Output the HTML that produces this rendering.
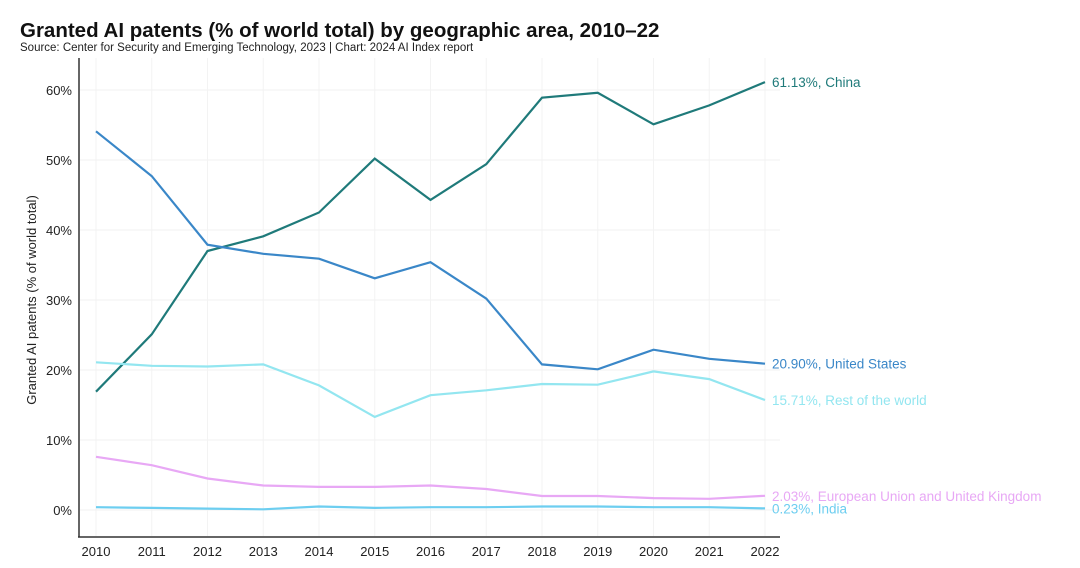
<!DOCTYPE html>
<html><head><meta charset="utf-8"><style>
body{margin:0;background:#fff;font-family:"Liberation Sans",sans-serif}
svg{display:block}
</style></head><body>
<svg id="c" width="1080" height="568">
<text x="20" y="37" font-size="20.5" font-weight="bold" fill="#111">Granted AI patents (% of world total) by geographic area, 2010–22</text>
<text x="20" y="51" font-size="11.5" fill="#222">Source: Center for Security and Emerging Technology, 2023 | Chart: 2024 AI Index report</text>
<text transform="translate(36,300) rotate(-90)" text-anchor="middle" font-size="13" fill="#222">Granted AI patents (% of world total)</text>
<g id="grid"></g><g id="series"></g>
<line x1="79" y1="58" x2="79" y2="537" stroke="#333" stroke-width="1.5"/>
<line x1="78" y1="537" x2="780" y2="537" stroke="#333" stroke-width="1.5"/>
</svg>
<script>
const years=[2010,2011,2012,2013,2014,2015,2016,2017,2018,2019,2020,2021,2022];
const yTicks=[0,10,20,30,40,50,60];
const china=[16.9,25.1,37.0,39.1,42.5,50.2,44.3,49.4,58.9,59.6,55.1,57.8,61.13];
const us=[54.1,47.7,37.9,36.6,35.9,33.1,35.4,30.2,20.8,20.1,22.9,21.6,20.90];
const row=[21.1,20.6,20.5,20.8,17.8,13.3,16.4,17.1,18.0,17.9,19.8,18.7,15.71];
const eu=[7.6,6.4,4.5,3.5,3.3,3.3,3.5,3.0,2.0,2.0,1.7,1.6,2.03];
const india=[0.4,0.3,0.2,0.1,0.5,0.3,0.4,0.4,0.5,0.5,0.4,0.4,0.23];
const seriesNames=["China","United States","Rest of the world","European Union and United Kingdom","India"];
const NS="http://www.w3.org/2000/svg";
const x=i=>96+i*(765-96)/(years.length-1);
const y=v=>510-v*7;
function mk(t,a,p){const e=document.createElementNS(NS,t);for(const k in a)e.setAttribute(k,a[k]);p.appendChild(e);return e;}
const g=document.getElementById('grid');
yTicks.forEach(v=>{
 const l=mk('line',{x1:80,x2:780,y1:y(v),y2:y(v),stroke:'#f0f0f0'},g);
 
 
 const t=mk('text',{x:72,y:y(v)+5,'text-anchor':'end','font-size':13,fill:'#222'},g);
 t.textContent=v+'%';
 
 
});
years.forEach((yr,i)=>{
 const l=mk('line',{x1:x(i),x2:x(i),y1:58,y2:536,stroke:'#f3f3f3'},g);
 
 
 const t=mk('text',{x:x(i),y:556,'text-anchor':'middle','font-size':13,fill:'#222'},g);
 t.textContent=yr;
 
 
});
const s=document.getElementById('series');
const defs=[[china,'#1f7a7a',0],[us,'#3a87c8',1],[row,'#93e6f0',2],[eu,'#e8a8f5',3],[india,'#6dcef0',4]];
defs.forEach(([d,c,n])=>{
 const p=mk('polyline',{points:d.map((v,i)=>x(i)+','+y(v)).join(' '),fill:'none',stroke:c,'stroke-width':2.2},s);
 
 
 const last=d[d.length-1];
 const t=mk('text',{x:772,y:y(last)+5,'font-size':13.5,fill:c},s);
 t.textContent=last.toFixed(2)+'%, '+seriesNames[n];
 
 
});
</script>
</body></html>
